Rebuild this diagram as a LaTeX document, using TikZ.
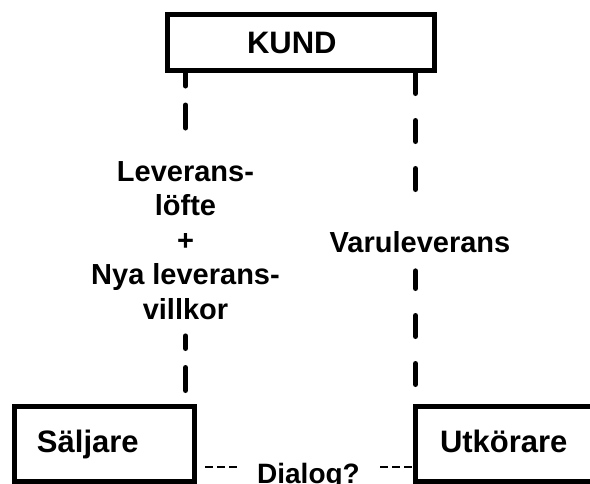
\documentclass[tikz,border=0pt]{standalone}
\usepackage{fontspec}
\setmainfont{Liberation Sans}
\usepackage{tikz}
\usetikzlibrary{calc}

\begin{document}
\begin{tikzpicture}[x=1pt, y={(0pt,-1pt)},
  every node/.style={font=\fontsize{29}{34.5}\selectfont\bfseries},
  actor/.style={draw, rectangle, line width=5pt, inner sep=0pt, align=left,
    font=\fontsize{31}{36}\selectfont\bfseries, text height=23pt, text depth=6.5pt},
  channel/.style={line width=5pt, line cap=round},
  talk/.style={line width=2pt, dash pattern=on 8pt off 4pt}]
  \useasboundingbox (0,0) rectangle (590,483);
  \clip (0,0) rectangle (590,483);
  % Actors
  \node[actor, minimum width=267pt, minimum height=56pt, text width=108pt, text depth=1pt] (kund) at (301,42) {KUND};
  \node[actor, minimum width=180pt, minimum height=75pt, text width=135pt] (saljare) at (104.5,444) {Säljare};
  \node[actor, minimum width=180pt, minimum height=75pt, text width=131pt, outer sep=0pt] (utkorare) at (505.5,444) {Utkörare};
  % Flow labels
  \node[align=center, inner ysep=16pt] (levlabel) at (185.5,240.6) {Leverans-\\löfte\\+\\Nya leverans-\\villkor};
  \node[inner ysep=18pt] (varlabel) at (420,242) {Varuleverans};
  \node[anchor=base, inner xsep=20pt, font=\fontsize{28}{32}\selectfont\bfseries] (dialog) at (308.5,483) {Dialog?};
  \coordinate (talkline) at (308.5,467);
  % Flows from/to the customer
  \draw[channel, dash pattern=on 23pt off 19pt, dash phase=9.5pt] (kund.south -| levlabel) -- (levlabel.north);
  \draw[channel, dash pattern=on 23pt off 19pt, dash phase=28.5pt] (levlabel.south |- saljare.north) -- (levlabel.south);
  \draw[channel, dash pattern=on 21pt off 27pt] (kund.south -| utkorare.north west) -- (varlabel.north -| utkorare.north west);
  \draw[channel, dash pattern=on 21pt off 27pt, dash phase=26pt] (utkorare.north west) -- (varlabel.south -| utkorare.north west);
  % Dialog between seller and driver
  \draw[talk, shorten <=8pt] (saljare.east |- talkline) -- (dialog.west |- talkline);
  \draw[talk] (dialog.east |- talkline) -- (utkorare.west |- talkline);
\end{tikzpicture}
\end{document}
